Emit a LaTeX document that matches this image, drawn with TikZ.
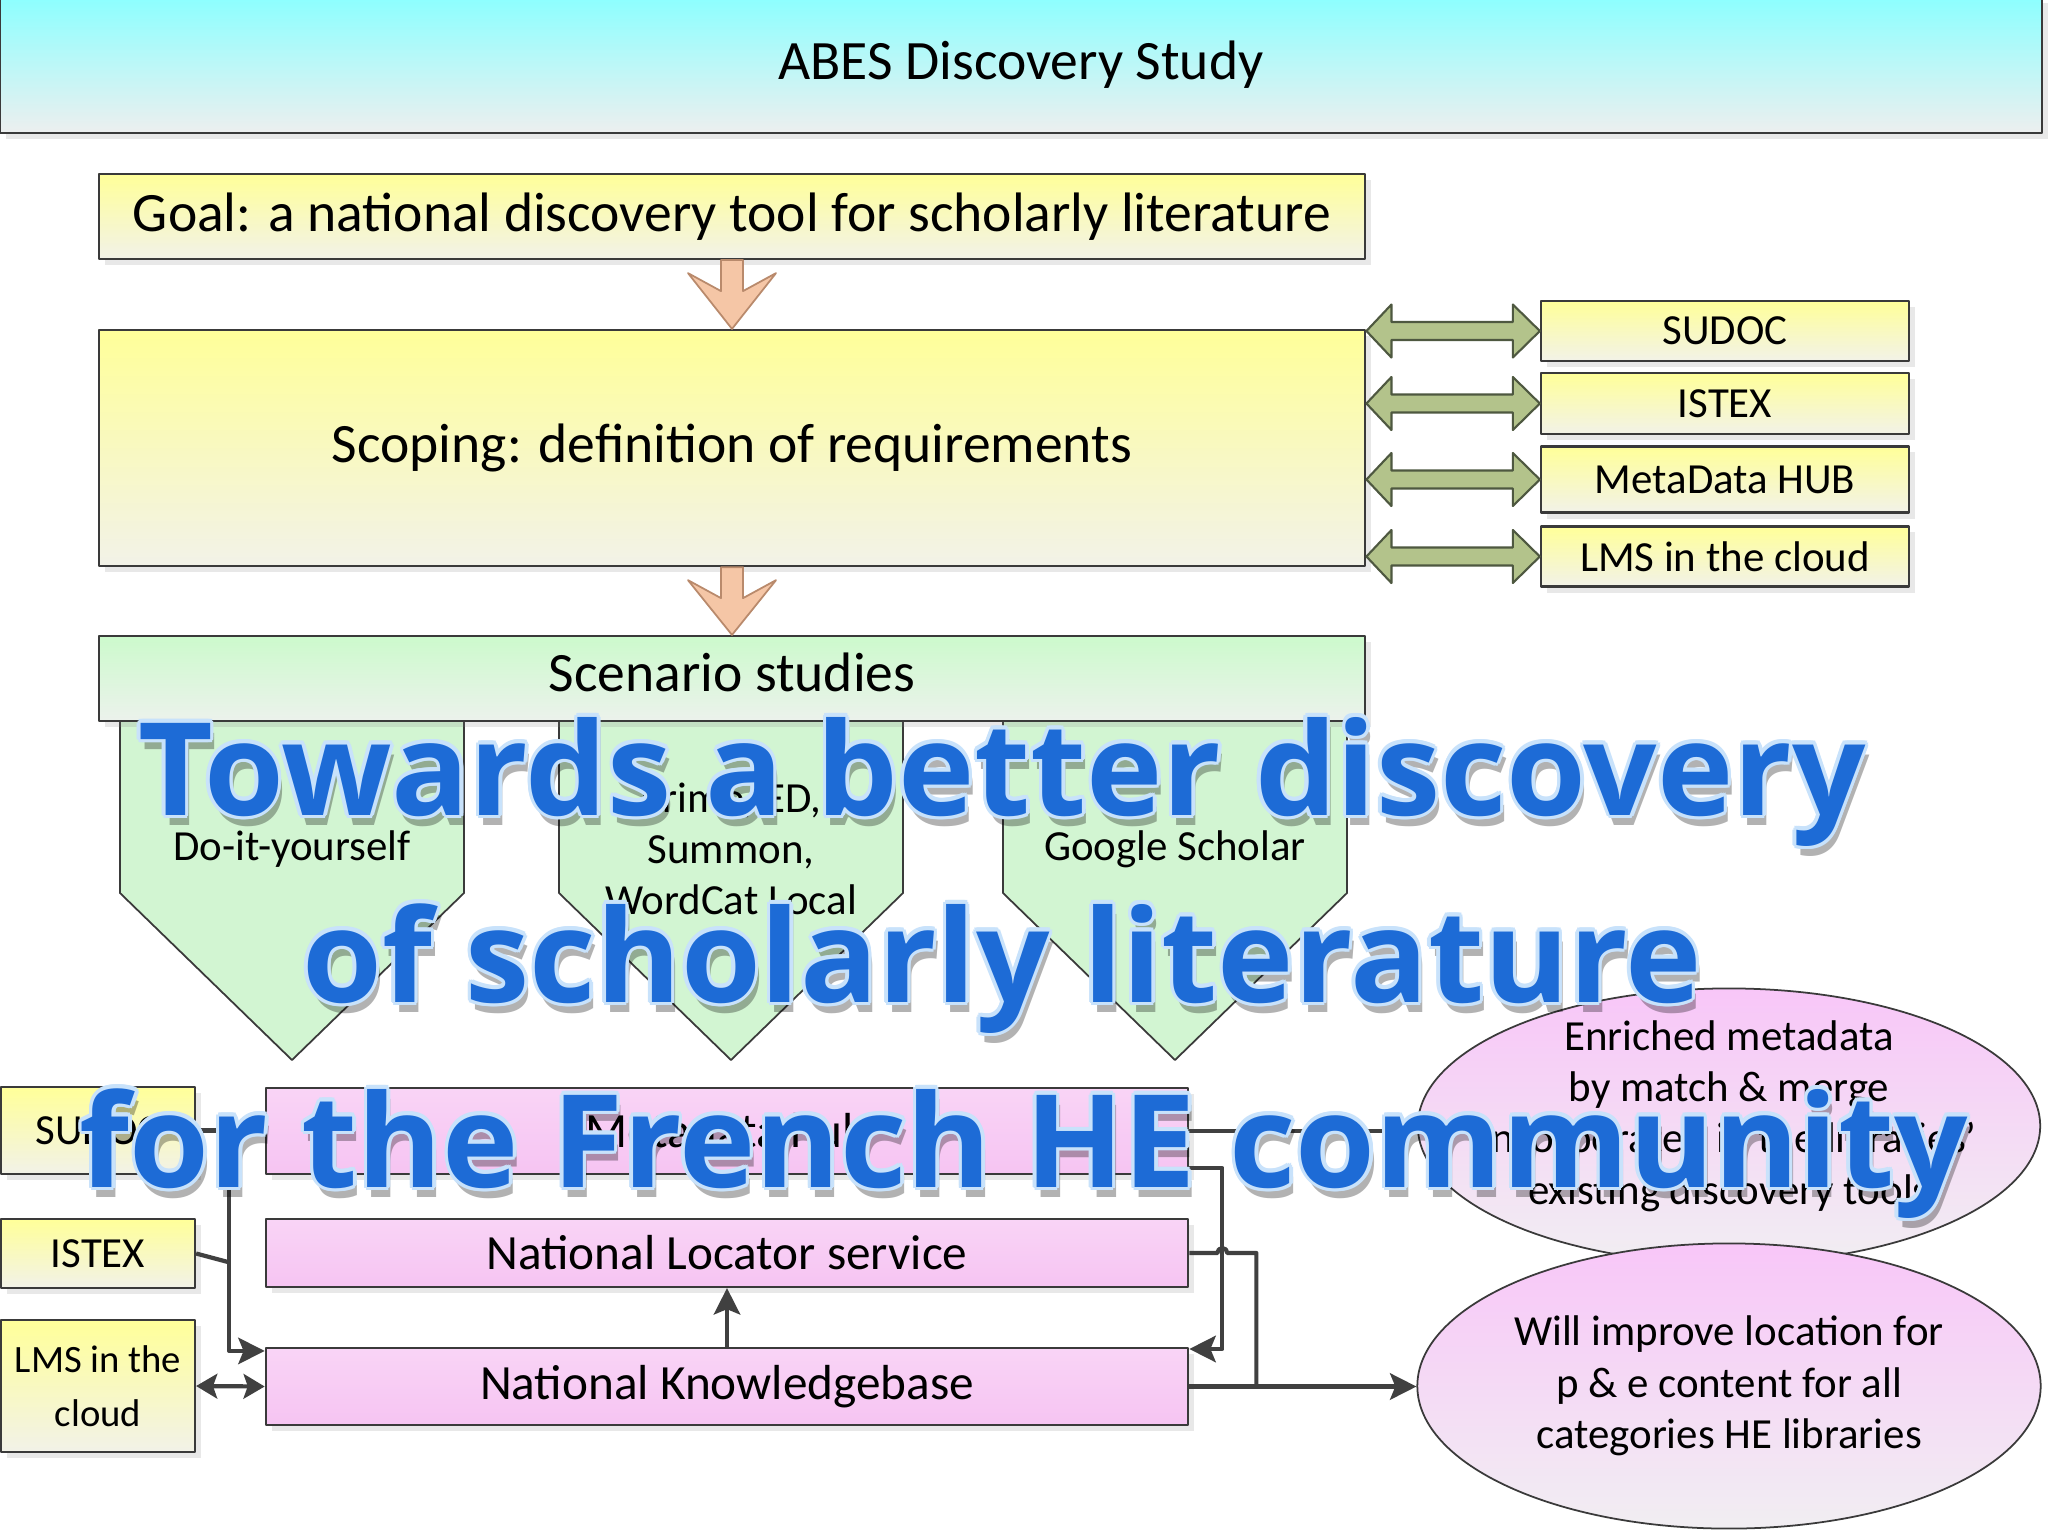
\documentclass[tikz,border=0pt]{standalone}
\usepackage{fontspec}
\setmainfont{Carlito}
\newfontfamily\bannerfont{Open Sans}
\usetikzlibrary{calc,shadows,arrows.meta,shapes.geometric}

\definecolor{boxline}{HTML}{3A3A3A}
\definecolor{linkgray}{HTML}{404040}
\definecolor{cyantop}{HTML}{8CFFFF}
\definecolor{cyanbot}{HTML}{EDEFEF}
\definecolor{yeltop}{HTML}{FFFF99}
\definecolor{yelbot}{HTML}{F2F2E8}
\definecolor{greentop}{HTML}{CCFACC}
\definecolor{greenbot}{HTML}{ECF2EC}
\definecolor{scenfill}{HTML}{D2F5D2}
\definecolor{pinktop}{HTML}{F9D4F6}
\definecolor{pinkbot}{HTML}{F6C4F2}
\definecolor{elltop}{HTML}{F8C6F8}
\definecolor{ellbot}{HTML}{F1EEF2}
\definecolor{peach}{HTML}{F5C6A6}
\definecolor{peachline}{HTML}{B98A6C}
\definecolor{olive}{HTML}{B3C38B}
\definecolor{oliveline}{HTML}{4E5840}
\definecolor{bannerblue}{HTML}{1D6BD6}
\definecolor{bannerglow}{HTML}{C8E2FB}

\newcommand{\hdtxt}{\fontsize{15.8}{19}\selectfont}
\newcommand{\mdtxt}{\fontsize{14}{17}\selectfont}
\newcommand{\smtxt}{\fontsize{12.2}{14.6}\selectfont}

% fat two-headed arrow from the scoping box to a side box
\newcommand{\greenlink}[1]{%
  \path[greenarrow] let \p1=(scope.east |- #1.west), \p2=(#1.west) in
    (\x1,\y1) -- (\x1+0.25cm,\y1+0.265cm) -- (\x1+0.25cm,\y1+0.09cm)
    -- (\x2-0.27cm,\y1+0.09cm) -- (\x2-0.27cm,\y1+0.265cm) -- (\x2,\y1)
    -- (\x2-0.27cm,\y1-0.265cm) -- (\x2-0.27cm,\y1-0.09cm)
    -- (\x1+0.25cm,\y1-0.09cm) -- (\x1+0.25cm,\y1-0.265cm) -- cycle;}

% block arrow pointing down from one box to the next
\newcommand{\peachlink}[2]{%
  \path[peacharrow] let \p1=(#1.south), \p2=(#2.north) in
    (\x1-0.11cm,\y1) -- (\x1-0.11cm,\y1-0.31cm) -- (\x1-0.44cm,\y1-0.13cm)
    -- (\x1,\y2) -- (\x1+0.44cm,\y1-0.13cm) -- (\x1+0.11cm,\y1-0.31cm)
    -- (\x1+0.11cm,\y1) -- cycle;}

\begin{document}
\begin{tikzpicture}[x=0.01cm,y=-0.01cm,line join=round,
    link/.style={draw=linkgray,line width=1.2pt,
                 -{Stealth[length=7.5pt,width=7.5pt,inset=1.5pt]}},
    dlink/.style={link,{Stealth[length=6pt,width=7pt,inset=1.2pt]}-{Stealth[length=6pt,width=7pt,inset=1.2pt]}},
    plainlink/.style={draw=linkgray,line width=1.2pt},
    banner/.style={font=\bannerfont\bfseries\fontsize{36.7}{40}\selectfont,
                   inner sep=0pt,anchor=base}]

  \tikzstyle{box}=[draw=boxline,line width=0.6pt,inner sep=0pt,
                   drop shadow={shadow xshift=0.06cm,shadow yshift=-0.06cm,opacity=0.18}]
  \tikzstyle{yelbox}=[box,top color=yeltop,bottom color=yelbot]
  \tikzstyle{pinkbox}=[box,top color=pinktop,bottom color=pinkbot,font=\mdtxt]
  \tikzstyle{ellbox}=[ellipse,draw=boxline,line width=0.5pt,inner sep=0pt,
                      top color=elltop,bottom color=ellbot]
  \tikzstyle{scenshape}=[draw=boxline,line width=0.5pt,fill=scenfill]
  \tikzstyle{greenarrow}=[draw=oliveline,line width=0.6pt,fill=olive]
  \tikzstyle{peacharrow}=[draw=peachline,line width=0.5pt,fill=peach]

  \fill[white] (0,0) rectangle (2048,1536);
  \useasboundingbox (0,0) rectangle (2048,1536);

  \node[box,top color=cyantop,bottom color=cyanbot,minimum width=20.40cm,
        minimum height=1.36cm,font=\hdtxt] (title) at (1021,65) {ABES Discovery Study};

  \node[yelbox,minimum width=12.66cm,minimum height=0.85cm,font=\hdtxt] (goal)
        at (732,216.5) {Goal: a national discovery tool for scholarly literature};
  \node[yelbox,minimum width=12.66cm,minimum height=2.36cm,font=\hdtxt] (scope)
        at (732,448) {Scoping: definition of requirements};

  % the three scenarios hang below the scenario box
  \foreach \cx in {292,731,1175}
    \draw[scenshape] (\cx-172,721) -- (\cx+172,721) -- (\cx+172,893)
                     -- (\cx,1060) -- (\cx-172,893) -- cycle;
  \node[box,top color=greentop,bottom color=greenbot,minimum width=12.66cm,
        minimum height=0.85cm,font=\hdtxt,text depth=0.12cm] (scen) at (732,678.5) {Scenario studies};

  \node[font=\smtxt] (diy)  at (292,849) {Do-it-yourself};
  \node[font=\smtxt,align=center] (comm) at (731,849) {Primo, ED,\\Summon,\\WordCat Local};
  \node[font=\smtxt] (gs)   at (1175,849) {Google Scholar};

  \peachlink{goal}{scope}
  \peachlink{scope}{scen}

  % partners of the scoping phase
  \node[yelbox,minimum width=3.68cm,minimum height=0.60cm,font=\smtxt] (sudocR) at (1725,331)   {SUDOC};
  \node[yelbox,minimum width=3.68cm,minimum height=0.61cm,font=\smtxt] (istexR) at (1725,403.5) {ISTEX};
  \node[yelbox,minimum width=3.68cm,minimum height=0.66cm,font=\smtxt] (hubR)   at (1725,479.5) {MetaData HUB};
  \node[yelbox,minimum width=3.68cm,minimum height=0.60cm,font=\smtxt] (lmsR)   at (1725,556.5) {LMS in the cloud};

  \greenlink{sudocR}
  \greenlink{istexR}
  \greenlink{hubR}
  \greenlink{lmsR}

  % national services
  \node[yelbox,minimum width=1.94cm,minimum height=0.87cm,font=\smtxt] (sudocL) at (98,1130.5) {SUDOC};
  \node[yelbox,minimum width=1.94cm,minimum height=0.69cm,font=\smtxt] (istexL) at (98,1253.5) {ISTEX};
  \node[yelbox,minimum width=1.94cm,minimum height=1.32cm,align=center,
        font=\fontsize{11}{15.5}\selectfont] (lmsL) at (98,1386) {LMS in the\\cloud};

  \node[pinkbox,minimum width=9.22cm,minimum height=0.86cm] (hub) at (727,1131)    {Metadata hub};
  \node[pinkbox,minimum width=9.22cm,minimum height=0.68cm] (loc) at (727,1253)    {National Locator service};
  \node[pinkbox,minimum width=9.22cm,minimum height=0.77cm] (kb)  at (727,1386.5)  {National Knowledgebase};

  \node[ellbox,minimum width=6.22cm,minimum height=2.75cm] (ell1) at (1729,1126) {};
  \node[ellbox,minimum width=6.23cm,minimum height=2.85cm] (ell2) at (1729,1386) {};
  \node[font=\smtxt,align=center] (ell1txt) at (1729,1116)
        {Enriched metadata\\by match \& merge\\incorporated in the libraries'\\existing discovery tools};
  \node[font=\smtxt,align=center] (ell2txt) at (1729,1386)
        {Will improve location for\\p \& e content for all\\categories HE libraries};

  \coordinate (lbus)   at (228,1262);
  \coordinate (kbjoin) at ([xshift=0.67cm]kb.east);

  \draw[link] (sudocL.east) -- ++(33,0) |- ([yshift=-0.04cm]kb.north west);
  \draw[plainlink] (istexL.east) -- (lbus);
  \draw[dlink] (lmsL.east) -- (kb.west);
  \draw[link] (kb.north) -- (loc.south);
  \draw[link] (hub.east) -- (hub.east -| ell1.west);
  \draw[link] ([yshift=-0.37cm]hub.east) -- ++(33,0) |- ([yshift=0.375cm]kb.east);
  \draw[plainlink] (loc.east) -- ++(28,0) arc[start angle=180,end angle=0,radius=0.05cm]
                   -- (loc.east -| kbjoin) -- (kbjoin);
  \draw[link] (kb.east) -- (kb.east -| ell2.west);

  % title laid over the whole slide
  \foreach \ln/\cx/\by/\txt in {1/1002/815/Towards a better discovery,
                                2/1002/1002/of scholarly literature,
                                3/1024/1187/for the French HE community} {
    \node[banner,text=black,opacity=0.3] (shade\ln) at (\cx+4,\by+10) {\txt};
    \foreach \a in {0,30,...,330}
      \node[banner,text=bannerglow] (glow\ln-\a) at ($(\cx,\by)+(\a:0.035cm)$) {\txt};
    \node[banner,text=bannerblue] (line\ln) at (\cx,\by) {\txt};
  }
\end{tikzpicture}
\end{document}
